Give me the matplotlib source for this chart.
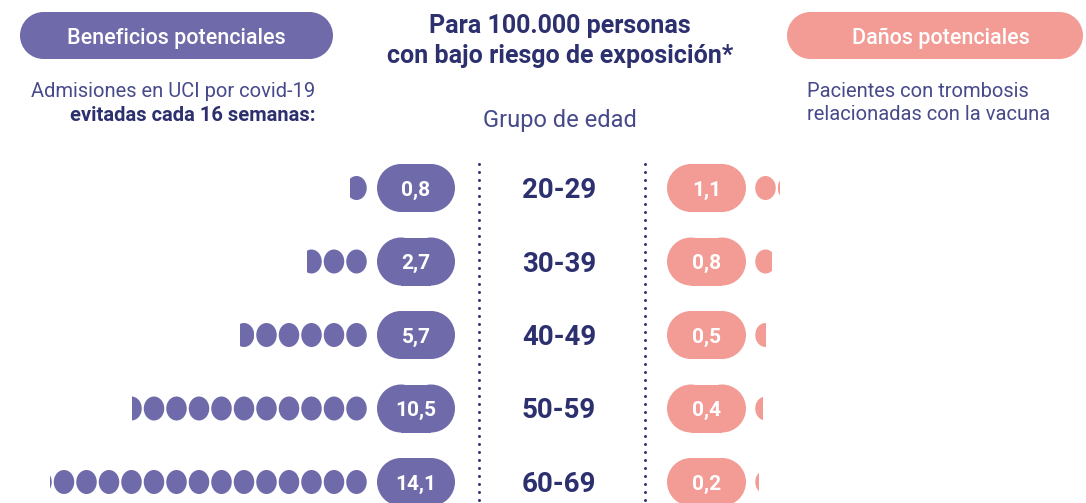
import numpy as np
import matplotlib.pyplot as plt
from matplotlib.patches import Ellipse, Rectangle, Circle

# datos (por 100.000 personas con bajo riesgo de exposicion)
age_groups = ['20-29', '30-39', '40-49', '50-59', '60-69']
beneficios = [0.8, 2.7, 5.7, 10.5, 14.1]   # admisiones UCI evitadas
danos = [1.1, 0.8, 0.5, 0.4, 0.2]          # trombosis por la vacuna

purple = '#6f6aaa'
pink = '#f39b95'
navy = '#2d306e'
navy_light = '#474a8a'

plt.rcParams['font.family'] = ['Roboto', 'DejaVu Sans']

fig = plt.figure(figsize=(10.86, 5.03), dpi=100)
ax = fig.add_axes([0, 0, 1, 1])
ax.set_xlim(0, 1086)
ax.set_ylim(503, 0)
ax.axis('off')


def pill(x0, x1, yc, h, color):
    # rectangulo con extremos semicirculares
    r = h / 2
    ax.add_patch(Rectangle((x0 + r, yc - r), x1 - x0 - 2 * r, h,
                           fc=color, ec='none'))
    ax.add_patch(Circle((x0 + r, yc), r, fc=color, ec='none'))
    ax.add_patch(Circle((x1 - r, yc), r, fc=color, ec='none'))


# cabeceras
pill(20, 333, 35.5, 47, purple)
ax.text(176, 44, 'Beneficios potenciales', color='white', fontsize=15.5,
        fontweight='medium', ha='center', va='baseline')
pill(787, 1083, 35.5, 47, pink)
ax.text(941, 44, 'Daños potenciales', color='white', fontsize=15.5,
        fontweight='medium', ha='center', va='baseline')

ax.text(560, 33, 'Para 100.000 personas', color=navy, fontsize=18,
        fontweight='bold', ha='center', va='baseline')
ax.text(560, 63, 'con bajo riesgo de exposición*', color=navy, fontsize=18,
        fontweight='bold', ha='center', va='baseline')
ax.text(560, 127, 'Grupo de edad', color=navy_light, fontsize=17,
        ha='center', va='baseline')

ax.text(315, 97, 'Admisiones en UCI por covid-19', color=navy_light,
        fontsize=14.5, ha='right', va='baseline')
ax.text(315, 121, 'evitadas cada 16 semanas:', color=navy, fontsize=14.5,
        fontweight='bold', ha='right', va='baseline')
ax.text(807, 97, 'Pacientes con trombosis', color=navy_light,
        fontsize=14.5, ha='left', va='baseline')
ax.text(807, 120, 'relacionadas con la vacuna', color=navy_light,
        fontsize=14.5, ha='left', va='baseline')

# lineas punteadas
dots_y = np.arange(164, 504, 8)
for xl in [479, 645]:
    ax.scatter(np.full(len(dots_y), xl), dots_y, s=4.5, color=navy,
               linewidths=0)

row_y = 188 + 73.5 * np.arange(len(age_groups))
dot_w, dot_h, pitch = 20.5, 24, 22.5


def draw_dots(value, yc, x_start, direction, color):
    tenths = int(round(value * 10))
    n_full, rest = divmod(tenths, 10)
    for k in range(n_full):
        ax.add_patch(Ellipse((x_start + direction * k * pitch, yc), dot_w,
                             dot_h, fc=color, ec='none'))
    if rest:
        cx = x_start + direction * n_full * pitch
        frac = rest / 10 * dot_w
        e = Ellipse((cx, yc), dot_w, dot_h, fc=color, ec='none')
        ax.add_patch(e)
        if direction < 0:
            clip = Rectangle((cx + dot_w / 2 - frac, yc - dot_h), frac,
                             2 * dot_h, transform=ax.transData)
        else:
            clip = Rectangle((cx - dot_w / 2, yc - dot_h), frac,
                             2 * dot_h, transform=ax.transData)
        e.set_clip_path(clip)


for age, b, d, yc in zip(age_groups, beneficios, danos, row_y):
    ax.text(559, yc + 10, age, color=navy, fontsize=20, fontweight='bold',
            ha='center', va='baseline')
    pill(377, 455, yc, 48, purple)
    ax.text(416, yc + 7.4, ('%.1f' % b).replace('.', ','), color='white',
            fontsize=15, fontweight='bold', ha='center', va='baseline')
    pill(667, 746, yc, 48, pink)
    ax.text(706.5, yc + 7.4, ('%.1f' % d).replace('.', ','), color='white',
            fontsize=15, fontweight='bold', ha='center', va='baseline')
    draw_dots(b, yc, 356.5, -1, purple)
    draw_dots(d, yc, 765.5, 1, pink)

fig.savefig('out.png', dpi=100)
